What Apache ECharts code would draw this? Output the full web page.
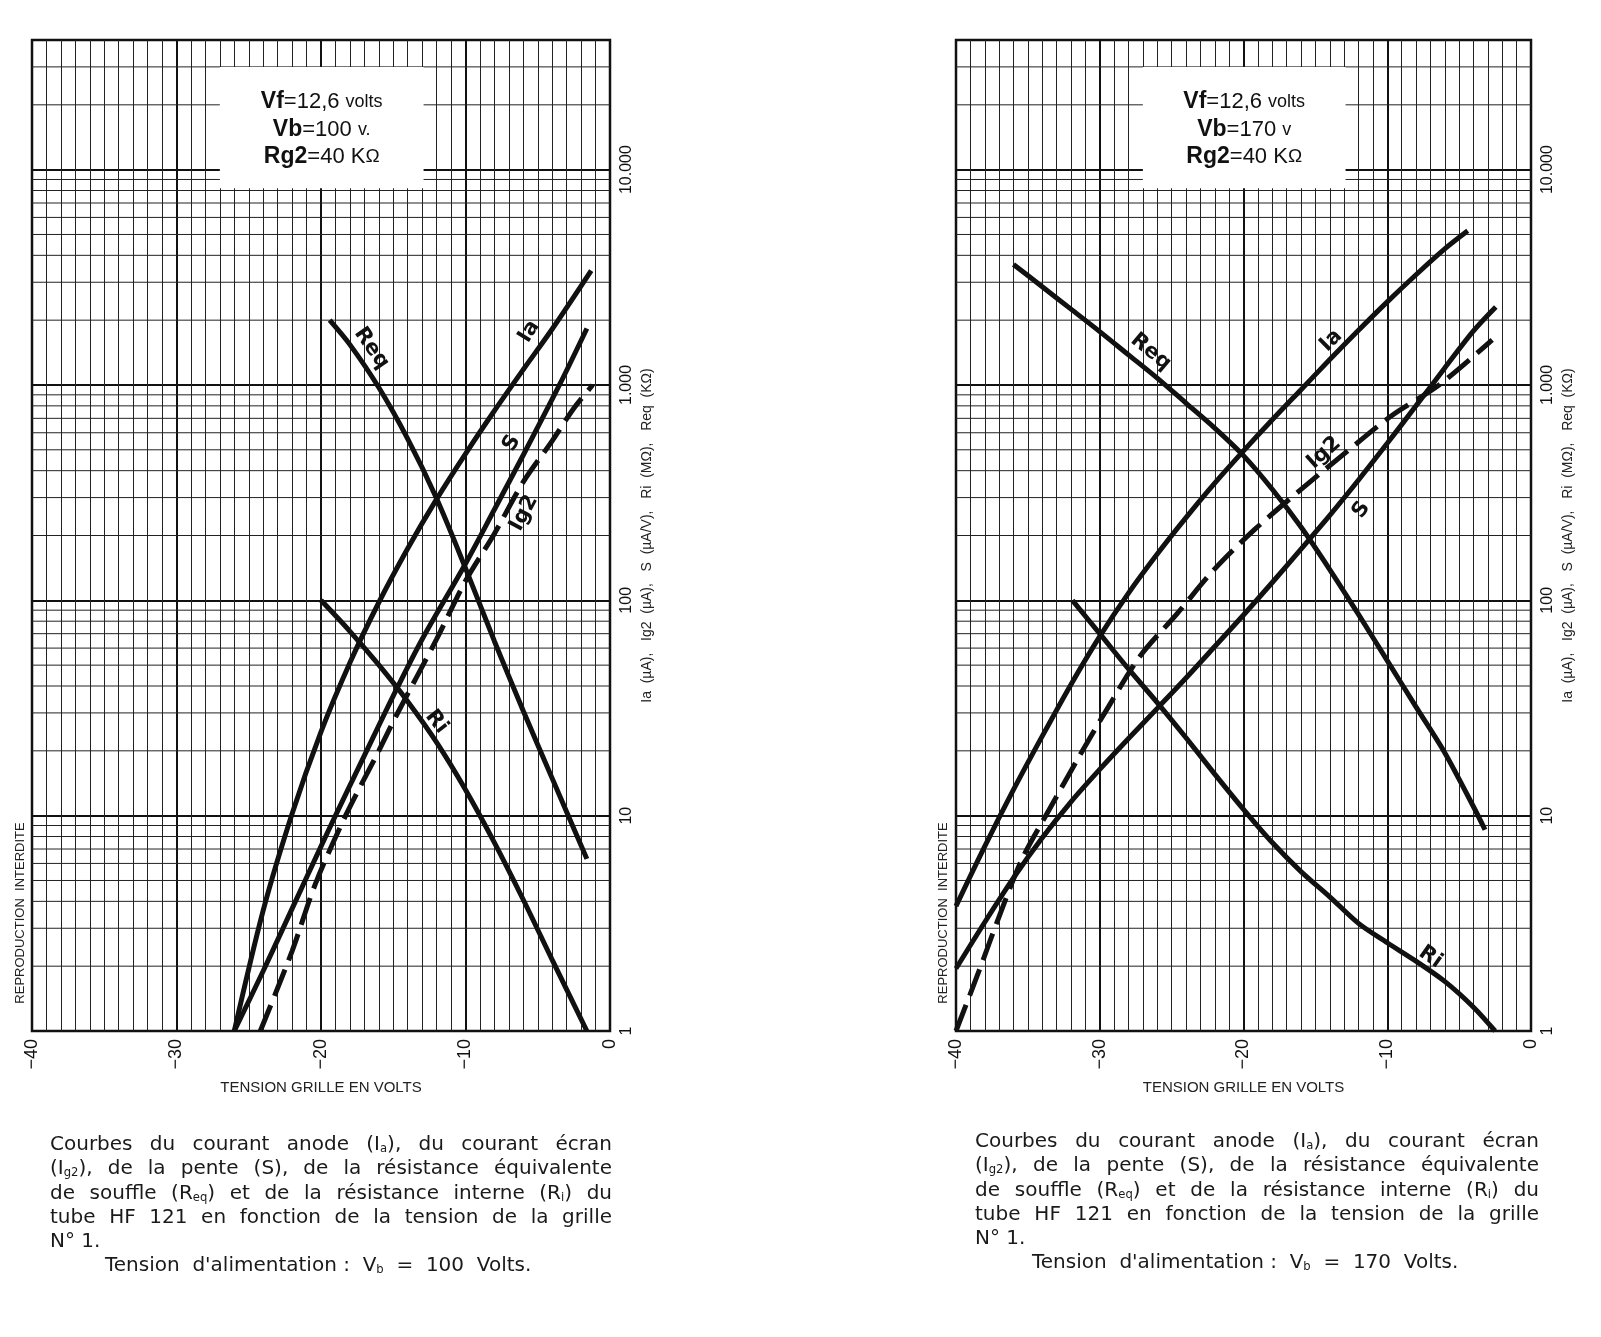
<!DOCTYPE html>
<html lang="fr">
<head>
<meta charset="utf-8">
<title>HF 121 - courbes en fonction de la tension grille</title>
<script src="https://cdn.jsdelivr.net/npm/echarts@6/dist/echarts.min.js"></script>
<style>
  body { margin: 0; background: #fff; }
  #wrap { position: relative; width: 1601px; height: 1337px; }
  #chart { position: absolute; left: 0; top: 0; width: 1601px; height: 1337px; }
  .caption { position: absolute; font-family: "DejaVu Sans", sans-serif; font-size: 20px;
             line-height: 24.3px; color: #1a1a1a; }
  .caption .j { text-align: justify; text-align-last: justify; }
  .caption sub { font-size: 58%; line-height: 0; vertical-align: -0.2em; }
</style>
</head>
<body>
<div id="wrap">
  <div id="chart"></div>
  <div class="caption" style="left:50px; top:1131px; width:562px;">
    <div class="j">Courbes du courant anode (I<sub>a</sub>), du courant écran</div>
    <div class="j">(I<sub>g2</sub>), de la pente (S), de la résistance équivalente</div>
    <div class="j">de souffle (R<sub>eq</sub>) et de la résistance interne (R<sub>i</sub>) du</div>
    <div class="j">tube HF 121 en fonction de la tension de la grille</div>
    <div>N° 1.</div>
    <div style="padding-left:55px;">Tension&nbsp; d'alimentation&nbsp;:&nbsp; V<sub>b</sub>&nbsp; =&nbsp; 100&nbsp; Volts.</div>
  </div>
  <div class="caption" style="left:975px; top:1128px; width:564px;">
    <div class="j">Courbes du courant anode (I<sub>a</sub>), du courant écran</div>
    <div class="j">(I<sub>g2</sub>), de la pente (S), de la résistance équivalente</div>
    <div class="j">de souffle (R<sub>eq</sub>) et de la résistance interne (R<sub>i</sub>) du</div>
    <div class="j">tube HF 121 en fonction de la tension de la grille</div>
    <div>N° 1.</div>
    <div style="padding-left:57px;">Tension&nbsp; d'alimentation&nbsp;:&nbsp; V<sub>b</sub>&nbsp; =&nbsp; 170&nbsp; Volts.</div>
  </div>
</div>
<script>
// axes
var xTicks = [-40, -30, -20, -10, 0];
var yTickValues = [1, 10, 100, 1000, 10000];
var yTickLabels = ['1', '10', '100', '1.000', '10.000'];

// Vb = 100 V  -- [tension grille (V), valeur]
var ia100  = [[-26,1],[-24,3.63],[-22,10.2],[-20,24.5],[-18,51.3],[-16,97.7],[-14,174],[-12,295],[-10,479],[-8,759],[-6,1180],[-4,1820],[-1.3,3400]];
var s100   = [[-26,1],[-24,1.9],[-22,3.7],[-20,7.2],[-19,10],[-17,19],[-15,36],[-13,66],[-10,148],[-8,264],[-6,473],[-3.5,1000],[-1.6,1830]];
var ig2100 = [[-24.2,1],[-22,2.35],[-20.4,4.8],[-18.3,10],[-16,20],[-14.75,29.5],[-12,66],[-10,123],[-8,204],[-6,355],[-4,550],[-2.5,780],[-1.2,1000]];
var req100 = [[-19.4,2000],[-18,1540],[-16,973],[-14,562],[-12,297],[-10,141],[-8,64.6],[-6,30.6],[-4,14.9],[-1.6,6.3]];
var ri100  = [[-20,100],[-18,71.8],[-16,50.1],[-14,33.9],[-12,21.9],[-10,13.2],[-8,7.5],[-6,4.07],[-4,2.14],[-1.6,1]];

// Vb = 170 V
var ia170  = [[-40,3.8],[-38,7.2],[-36,13.2],[-34,23.4],[-32,40.7],[-30,68],[-28,108],[-26,164],[-24,242],[-22,350],[-20,494],[-18,689],[-16,951],[-14,1312],[-12,1795],[-10,2432],[-8,3251],[-6,4285],[-4.4,5200]];
var s170   = [[-40,1.95],[-38,3.2],[-36,5.14],[-34,7.9],[-32,11.6],[-30,16.4],[-28,22.8],[-26,31.5],[-24,43.6],[-22,61],[-20,85.5],[-18,121],[-16,173],[-14,248],[-12,362],[-10,536],[-8,800],[-6,1200],[-4,1782],[-2.45,2300]];
var ig2170 = [[-40,1],[-38.4,1.9],[-37,3.4],[-35.4,6.3],[-33.5,10.7],[-31.4,19],[-29.4,32],[-27.2,55],[-24.6,87],[-22,140],[-19.2,214],[-16.1,323],[-12.9,485],[-9.7,720],[-6.4,1000],[-2.7,1620]];
var req170 = [[-36,3630],[-34,2860],[-32,2250],[-30,1770],[-28,1380],[-26,1076],[-24,824],[-22,631],[-20,470],[-18,328],[-16,219],[-14,139],[-12,86],[-10,52.5],[-8,32],[-6,19.6],[-4,11],[-3.2,8.6]];
var ri170  = [[-31.9,100],[-30,70],[-28,48],[-26,33.5],[-24,23],[-22,15.6],[-20,10.7],[-18,7.5],[-16,5.5],[-14,4.2],[-12,3.16],[-10,2.57],[-8,2.11],[-6,1.7],[-4,1.29],[-2.5,1]];

var FONT = '"Liberation Sans", Arial, sans-serif';
var INK = '#111';

// lignes fines du papier log : 2..9 dans chaque décade
var minorY = [];
for (var d = 1; d <= 10000; d *= 10) {
  for (var k = 2; k <= 9; k++) {
    if (k * d < 40000) minorY.push(k * d);
  }
}

function panel(i, left, width, c, labels, vb, vbUnit) {
  var grid = { left: left, top: 40, width: width, height: 991, show: true,
               borderColor: INK, borderWidth: 2.5, outerBoundsMode: 'none' };
  var xAxis = {
    gridIndex: i, type: 'value', min: -40, max: 0, interval: 10,
    axisLine: { show: false }, axisTick: { show: false },
    axisLabel: { rotate: 90, margin: 8, fontSize: 18, fontFamily: FONT, color: INK,
      formatter: function (v) { return v === 0 ? '0' : '\u2212' + Math.abs(v); } },
    splitLine: { show: true, lineStyle: { color: INK, width: 2 } },
    minorTick: { show: false, splitNumber: 10 },
    minorSplitLine: { show: true, lineStyle: { color: '#222', width: 1 } },
    name: 'TENSION GRILLE EN VOLTS', nameLocation: 'middle', nameGap: 49,
    nameTextStyle: { fontSize: 15, fontFamily: FONT, color: '#222' }
  };
  var yAxis = {
    gridIndex: i, type: 'log', logBase: 10, min: 1, max: 40000, position: 'right',
    axisLine: { show: false }, axisTick: { show: false },
    axisLabel: { rotate: 90, margin: 9, fontSize: 16, fontFamily: FONT, color: INK,
      formatter: function (v) {
        var n = yTickValues.indexOf(Math.round(v));
        return n < 0 ? '' : yTickLabels[n];
      } },
    splitLine: { show: true, lineStyle: { color: INK, width: 2 } },
    name: 'Ia  (µA),   Ig2  (µA),   S  (µA/V),   Ri  (MΩ),   Req  (KΩ)',
    nameLocation: 'middle', nameRotate: 90, nameGap: 30,
    nameTextStyle: { fontSize: 14, fontFamily: FONT, color: '#222' }
  };

  var series = [];
  series.push({
    type: 'custom', xAxisIndex: i, yAxisIndex: i, z: 1, silent: true,
    data: minorY.map(function (v) { return [-40, v]; }),
    renderItem: function (params, api) {
      var a = api.coord([-40, api.value(1)]);
      var b = api.coord([0, api.value(1)]);
      return { type: 'line', shape: { x1: a[0], y1: a[1], x2: b[0], y2: b[1] },
               style: { stroke: '#222', lineWidth: 1 } };
    }
  });
  // cartouche des conditions de mesure
  series.push({
    type: 'custom', xAxisIndex: i, yAxisIndex: i, z: 2, silent: true,
    data: [[-27, 30000, -12.9, 8200]],
    renderItem: function (params, api) {
      var p1 = api.coord([api.value(0), api.value(1)]);
      var p2 = api.coord([api.value(2), api.value(3)]);
      return { type: 'group', children: [
        { type: 'rect', shape: { x: p1[0], y: p1[1], width: p2[0] - p1[0], height: p2[1] - p1[1] },
          style: { fill: '#fff' } },
        { type: 'text', x: (p1[0] + p2[0]) / 2, y: (p1[1] + p2[1]) / 2 + 2,
          style: {
            text: '{b|Vf}{n|=12,6 }{s|volts}\n{b|Vb}{n|=' + vb + ' }{s|' + vbUnit + '}\n{b|Rg2}{n|=40 K}{o|Ω}',
            align: 'center', verticalAlign: 'middle', fill: INK,
            rich: {
              b: { fontSize: 23, fontWeight: 'bold', fontFamily: FONT, fill: INK, lineHeight: 27.5 },
              n: { fontSize: 22, fontFamily: FONT, fill: INK, lineHeight: 27.5 },
              s: { fontSize: 18, fontFamily: FONT, fill: INK, lineHeight: 27.5 },
              o: { fontSize: 19, fontFamily: FONT, fill: INK, lineHeight: 27.5 }
            }
          } }
      ] };
    }
  });
  var curves = [['Ia', c.ia, null], ['S', c.s, null], ['Ig2', c.ig2, [28, 10]],
                ['Req', c.req, null], ['Ri', c.ri, null]];
  curves.forEach(function (cv) {
    series.push({
      name: cv[0], type: 'line', xAxisIndex: i, yAxisIndex: i, z: 5, silent: true,
      data: cv[1], showSymbol: false, smooth: 0.3,
      lineStyle: { color: INK, width: 5, type: cv[2] || 'solid', cap: 'butt' }
    });
  });
  series.push({
    type: 'custom', xAxisIndex: i, yAxisIndex: i, z: 6, silent: true,
    data: labels.map(function (l) { return l.at; }),
    renderItem: function (params, api) {
      var p = api.coord([api.value(0), api.value(1)]);
      var l = labels[params.dataIndex];
      return { type: 'text', x: p[0], y: p[1], rotation: l.rot * Math.PI / 180,
               style: { text: l.text, fontSize: 21, fontWeight: 'bold',
                        fontFamily: '"DejaVu Sans", sans-serif', fill: INK,
                        align: 'center', verticalAlign: 'middle' } };
    }
  });
  return { grid: grid, xAxis: xAxis, yAxis: yAxis, series: series };
}

var left = panel(0, 32, 578,
  { ia: ia100, s: s100, ig2: ig2100, req: req100, ri: ri100 },
  [ { text: 'Req', at: [-16.5, 1480], rot: -55 },
    { text: 'Ia',  at: [-5.6, 1770],  rot: 58 },
    { text: 'S',   at: [-6.8, 537],   rot: 60 },
    { text: 'Ig2', at: [-5.95, 254],  rot: 62 },
    { text: 'Ri',  at: [-12.0, 27.3], rot: -52 } ],
  '100', 'v.');
var right = panel(1, 956, 575,
  { ia: ia170, s: s170, ig2: ig2170, req: req170, ri: ri170 },
  [ { text: 'Req', at: [-26.45, 1425], rot: -40 },
    { text: 'Ia',  at: [-13.9, 1608],  rot: 45 },
    { text: 'Ig2', at: [-14.4, 484],   rot: 42 },
    { text: 'S',   at: [-11.8, 263],   rot: 55 },
    { text: 'Ri',  at: [-7.0, 2.2],    rot: -35 } ],
  '170', 'v');

var myChart = echarts.init(document.getElementById('chart'));
var option = {
  backgroundColor: '#fff',
  animation: false,
  grid: [left.grid, right.grid],
  xAxis: [left.xAxis, right.xAxis],
  yAxis: [left.yAxis, right.yAxis],
  series: left.series.concat(right.series),
  graphic: [
    { type: 'text', x: 20, y: 913, rotation: Math.PI / 2, silent: true,
      style: { text: 'REPRODUCTION  INTERDITE', fontSize: 13, fontFamily: FONT, fill: '#222',
               align: 'center', verticalAlign: 'middle' } },
    { type: 'text', x: 943, y: 913, rotation: Math.PI / 2, silent: true,
      style: { text: 'REPRODUCTION  INTERDITE', fontSize: 13, fontFamily: FONT, fill: '#222',
               align: 'center', verticalAlign: 'middle' } }
  ]
};
myChart.setOption(option);
</script>
</body>
</html>
